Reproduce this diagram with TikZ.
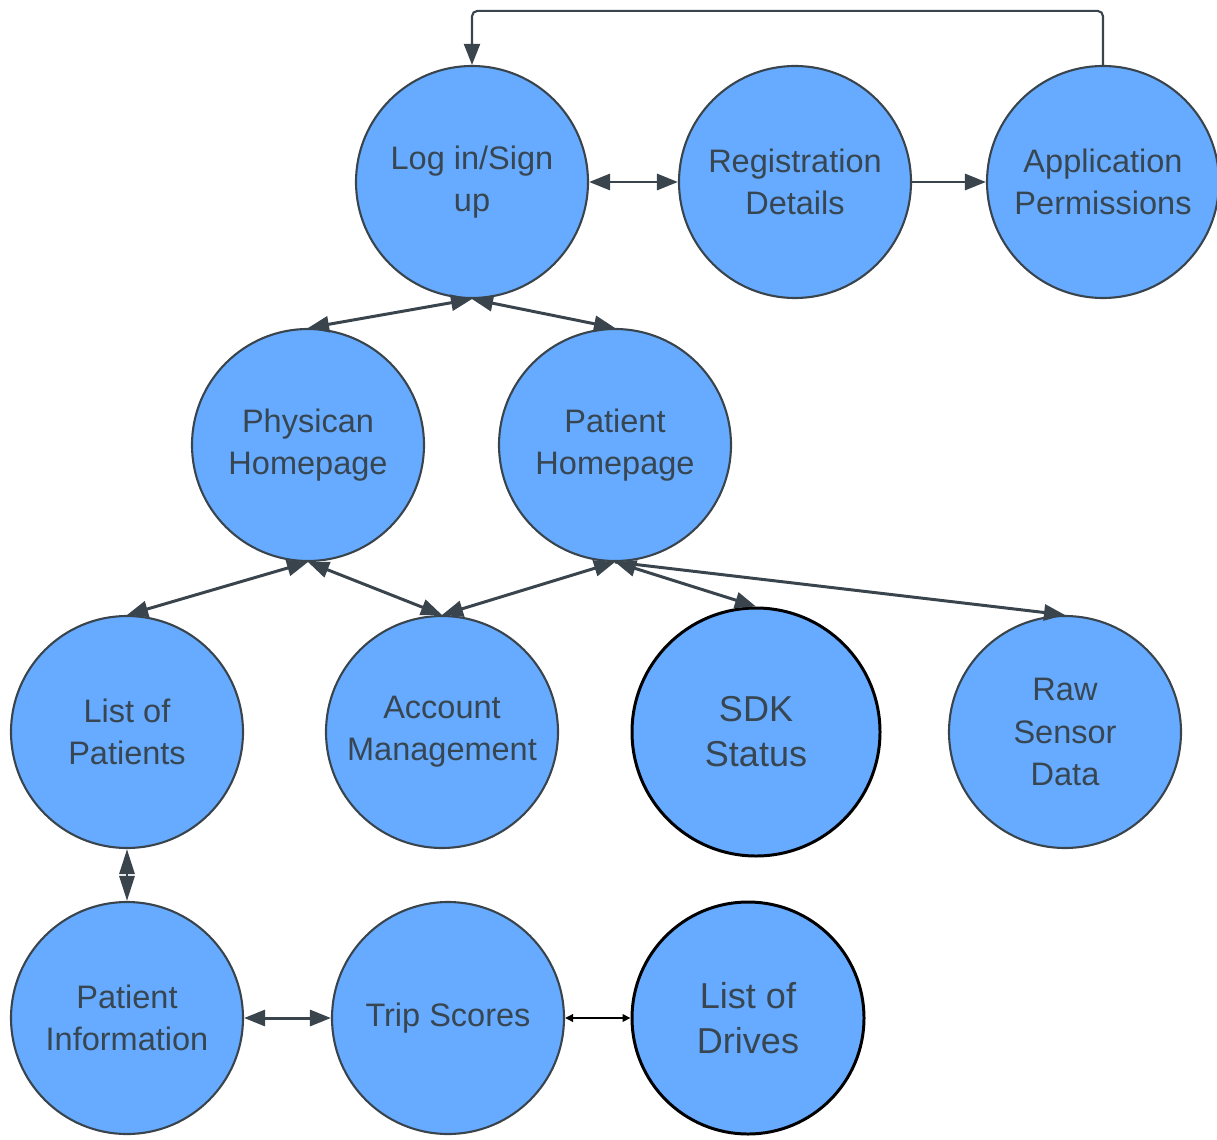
\documentclass[tikz,border=0pt]{standalone}
\usepackage{fontspec}
\setmainfont{Liberation Sans}
\usepackage{tikz}
\usetikzlibrary{shapes,arrows.meta}
\definecolor{nodeblue}{HTML}{66ABFF}
\definecolor{linegray}{HTML}{3A444D}
\definecolor{textgray}{HTML}{384652}
\tikzset{
  screen/.style     = {draw=linegray, circle, fill=nodeblue, line width=1.2pt, minimum size=4.64cm, inner sep=0pt, align=center, text=textgray, font=\fontsize{18.5}{24}\selectfont},
  boldscreen/.style = {screen, draw=black, line width=1.7pt, font=\fontsize{20.5}{25.6}\selectfont},
  link/.style       = {draw=linegray, line width=1.7pt},
  thinlink/.style   = {draw=black, line width=1.2pt, >={Triangle[length=0.16cm, width=0.15cm]}}
}

\begin{document}
\begin{tikzpicture}[auto, >={Triangle[length=0.42cm, width=0.32cm]}]
\useasboundingbox (0,0) rectangle (24.34,-22.78);

% Top row
\draw node [screen] at (9.44,-3.64) (login) {Log in/Sign\\up};
\draw node [screen, right of=login, node distance=6.46cm] (reg) {Registration\\Details};
\draw node [screen, right of=reg, node distance=6.16cm] (app) {Application\\Permissions};

% Homepages
\draw node [screen, below of=login, xshift=-3.28cm, node distance=5.26cm] (phys) {Physican\\Homepage};
\draw node [screen, right of=phys, node distance=6.14cm] (pat) {Patient\\Homepage};

% Third row
\draw node [screen, below of=phys, xshift=-3.62cm, node distance=5.74cm] (list) {List of\\Patients};
\draw node [screen, right of=list, node distance=6.30cm] (acct) {Account\\Management};
\draw node [boldscreen, right of=acct, node distance=6.28cm, minimum size=4.96cm] (sdk) {SDK\\Status};
\draw node [screen, right of=sdk, node distance=6.18cm] (raw) {Raw\\Sensor\\Data};

% Bottom row
\draw node [screen, below of=list, node distance=5.72cm] (info) {Patient\\Information};
\draw node [screen, right of=info, node distance=6.42cm] (trip) {Trip Scores};
\draw node [boldscreen, right of=trip, node distance=6.0cm] (drives) {List of\\Drives};

% Connections
\draw[link, ->, line width=1.2pt, rounded corners=3pt] (app.north) -- ++(0,1.08) -| (login.north);
\draw[link, <->] (login) -- (reg);
\draw[link, ->] (reg) -- (app);
\draw[link, <->] (login.south) -- (phys.north);
\draw[link, <->] (login.south) -- (pat.north);
\draw[link, <->] (phys.south) -- (list.north);
\draw[link, <->] (phys.south) -- (acct.north);
\draw[link, <->] (pat.south) -- (acct.north);
\draw[link, <->] (pat.south) -- (sdk.north);
\draw[link, ->] (pat.south) -- (raw.north);
\draw[link, <->, >={Triangle[length=0.5cm, width=0.3cm]}] (list) -- (info);
\draw[link, <->] (info) -- (trip);
\draw[thinlink, <->] (trip) -- (drives);

\end{tikzpicture}
\end{document}
